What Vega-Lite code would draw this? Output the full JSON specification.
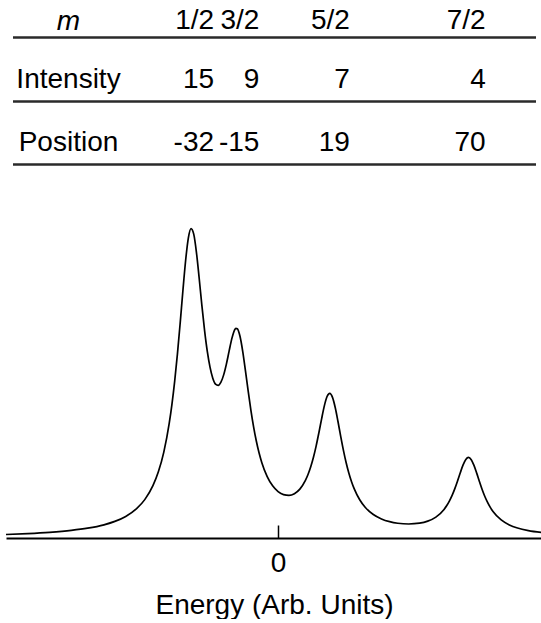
{
  "$schema": "https://vega.github.io/schema/vega-lite/v6.json",
  "padding": {"left": 2, "top": 0, "right": 0, "bottom": 0},
  "autosize": {"type": "pad"},
  "background": "white",
  "config": {
    "view": {"stroke": null},
    "font": "Liberation Sans",
    "text": {"color": "#000"}
  },
  "datasets": {
    "lines": [
      {"m": "1/2", "Intensity": 15, "Position": -32},
      {"m": "3/2", "Intensity": 9, "Position": -15},
      {"m": "5/2", "Intensity": 7, "Position": 19},
      {"m": "7/2", "Intensity": 4, "Position": 70}
    ],
    "spectrum": [
      {"energy": -100, "intensity": 0.1833},
      {"energy": -92, "intensity": 0.2287},
      {"energy": -84, "intensity": 0.2944},
      {"energy": -76, "intensity": 0.3946},
      {"energy": -70, "intensity": 0.5097},
      {"energy": -64, "intensity": 0.6868},
      {"energy": -60, "intensity": 0.8643},
      {"energy": -56, "intensity": 1.1247},
      {"energy": -52, "intensity": 1.5284},
      {"energy": -49, "intensity": 1.9975},
      {"energy": -46, "intensity": 2.7224},
      {"energy": -44, "intensity": 3.4434},
      {"energy": -42, "intensity": 4.4727},
      {"energy": -40, "intensity": 5.9738},
      {"energy": -39, "intensity": 6.9685},
      {"energy": -38, "intensity": 8.1625},
      {"energy": -37, "intensity": 9.5676},
      {"energy": -36, "intensity": 11.1589},
      {"energy": -35, "intensity": 12.8415},
      {"energy": -34, "intensity": 14.418},
      {"energy": -33, "intensity": 15.6001},
      {"energy": -32, "intensity": 16.1063},
      {"energy": -31, "intensity": 15.8177},
      {"energy": -30, "intensity": 14.8592},
      {"energy": -29, "intensity": 13.5189},
      {"energy": -28, "intensity": 12.0923},
      {"energy": -27, "intensity": 10.7848},
      {"energy": -26, "intensity": 9.7016},
      {"energy": -25, "intensity": 8.879},
      {"energy": -24, "intensity": 8.3191},
      {"energy": -23, "intensity": 8.012},
      {"energy": -22, "intensity": 7.9462},
      {"energy": -21, "intensity": 8.1108},
      {"energy": -20, "intensity": 8.491},
      {"energy": -19, "intensity": 9.0533},
      {"energy": -18, "intensity": 9.7255},
      {"energy": -17, "intensity": 10.3771},
      {"energy": -16, "intensity": 10.8253},
      {"energy": -15.5, "intensity": 10.9148},
      {"energy": -15, "intensity": 10.8927},
      {"energy": -14, "intensity": 10.5011},
      {"energy": -13, "intensity": 9.7187},
      {"energy": -12, "intensity": 8.7126},
      {"energy": -11, "intensity": 7.6539},
      {"energy": -10, "intensity": 6.6597},
      {"energy": -9, "intensity": 5.786},
      {"energy": -8, "intensity": 5.0471},
      {"energy": -7, "intensity": 4.4349},
      {"energy": -6, "intensity": 3.9336},
      {"energy": -4, "intensity": 3.1943},
      {"energy": -2, "intensity": 2.7133},
      {"energy": 0, "intensity": 2.4148},
      {"energy": 2, "intensity": 2.2562},
      {"energy": 4, "intensity": 2.2198},
      {"energy": 6, "intensity": 2.3082},
      {"energy": 8, "intensity": 2.5457},
      {"energy": 10, "intensity": 2.9836},
      {"energy": 11, "intensity": 3.3025},
      {"energy": 12, "intensity": 3.7045},
      {"energy": 13, "intensity": 4.2009},
      {"energy": 14, "intensity": 4.7969},
      {"energy": 15, "intensity": 5.48},
      {"energy": 16, "intensity": 6.2046},
      {"energy": 17, "intensity": 6.8778},
      {"energy": 18, "intensity": 7.3644},
      {"energy": 19, "intensity": 7.5312},
      {"energy": 20, "intensity": 7.3217},
      {"energy": 21, "intensity": 6.7921},
      {"energy": 22, "intensity": 6.0751},
      {"energy": 23, "intensity": 5.3057},
      {"energy": 24, "intensity": 4.5764},
      {"energy": 25, "intensity": 3.9323},
      {"energy": 26, "intensity": 3.3853},
      {"energy": 27, "intensity": 2.9299},
      {"energy": 28, "intensity": 2.5542},
      {"energy": 30, "intensity": 1.9895},
      {"energy": 32, "intensity": 1.6017},
      {"energy": 35, "intensity": 1.2243},
      {"energy": 38, "intensity": 0.9939},
      {"energy": 41, "intensity": 0.8517},
      {"energy": 44, "intensity": 0.7684},
      {"energy": 48, "intensity": 0.729},
      {"energy": 52, "intensity": 0.7718},
      {"energy": 55, "intensity": 0.8775},
      {"energy": 58, "intensity": 1.0885},
      {"energy": 61, "intensity": 1.4887},
      {"energy": 62, "intensity": 1.6889},
      {"energy": 63, "intensity": 1.9344},
      {"energy": 64, "intensity": 2.2323},
      {"energy": 65, "intensity": 2.5853},
      {"energy": 66, "intensity": 2.9866},
      {"energy": 67, "intensity": 3.4106},
      {"energy": 68, "intensity": 3.804},
      {"energy": 69, "intensity": 4.0898},
      {"energy": 70, "intensity": 4.1919},
      {"energy": 71, "intensity": 4.0782},
      {"energy": 72, "intensity": 3.781},
      {"energy": 73, "intensity": 3.3759},
      {"energy": 74, "intensity": 2.9401},
      {"energy": 75, "intensity": 2.527},
      {"energy": 76, "intensity": 2.1619},
      {"energy": 77, "intensity": 1.8517},
      {"energy": 78, "intensity": 1.5935},
      {"energy": 79, "intensity": 1.3803},
      {"energy": 82, "intensity": 0.9386},
      {"energy": 85, "intensity": 0.6807},
      {"energy": 88, "intensity": 0.5203},
      {"energy": 92, "intensity": 0.3871},
      {"energy": 97, "intensity": 0.2876}
    ]
  },
  "bounds": "flush",
  "center": true,
  "spacing": 20,
  "vconcat": [
    {
      "width": 523,
      "height": 201,
      "data": {"name": "lines"},
      "transform": [{"fold": ["m", "Intensity", "Position"], "as": ["row", "cell"]}],
      "encoding": {
        "x": {
          "field": "Position",
          "type": "quantitative",
          "scale": {"domain": [-107.7, 88.7], "nice": false, "zero": false},
          "axis": null
        },
        "y": {
          "field": "row",
          "type": "nominal",
          "sort": ["m", "Intensity", "Position"],
          "scale": {"type": "point", "padding": 0.583},
          "axis": {
            "orient": "left",
            "title": null,
            "grid": true,
            "gridColor": "#2a2a2a",
            "gridWidth": 2.5,
            "domain": false,
            "ticks": false,
            "tickSize": 0,
            "labelAlign": "center",
            "labelBaseline": "alphabetic",
            "labelPadding": -55.5,
            "labelFontSize": 28,
            "labelColor": "#000",
            "labelFontStyle": {"condition": {"test": "datum.value === 'm'", "value": "italic"}, "value": "normal"},
            "labelOffset": {"condition": {"test": "datum.value === 'm'", "value": -8}, "value": -13}
          }
        },
        "text": {"field": "cell", "type": "nominal"}
      },
      "layer": [
        {
          "transform": [{"filter": "datum.row === 'm'"}],
          "mark": {"type": "text", "align": "right", "baseline": "alphabetic", "fontSize": 28, "dy": -8}
        },
        {
          "transform": [{"filter": "datum.row !== 'm'"}],
          "mark": {"type": "text", "align": "right", "baseline": "alphabetic", "fontSize": 28, "dy": -13}
        }
      ]
    },
    {
      "width": 536,
      "height": 317,
      "data": {"name": "spectrum"},
      "mark": {"type": "line", "interpolate": "monotone", "color": "#000", "strokeWidth": 1.7},
      "encoding": {
        "x": {
          "field": "energy",
          "type": "quantitative",
          "scale": {"domain": [-100, 97], "nice": false, "zero": false},
          "axis": {
            "values": [0],
            "title": "Energy (Arb. Units)",
            "grid": false,
            "domainColor": "#000",
            "domainWidth": 2,
            "tickColor": "#000",
            "tickWidth": 1.5,
            "tickSize": -13,
            "labelFontSize": 28,
            "labelPadding": 24,
            "labelColor": "#000",
            "titleFontSize": 28,
            "titleFontWeight": "normal",
            "titleColor": "#000",
            "titlePadding": 14
          }
        },
        "y": {
          "field": "intensity",
          "type": "quantitative",
          "scale": {"domain": [0, 16.5], "nice": false},
          "axis": null
        }
      }
    }
  ]
}
